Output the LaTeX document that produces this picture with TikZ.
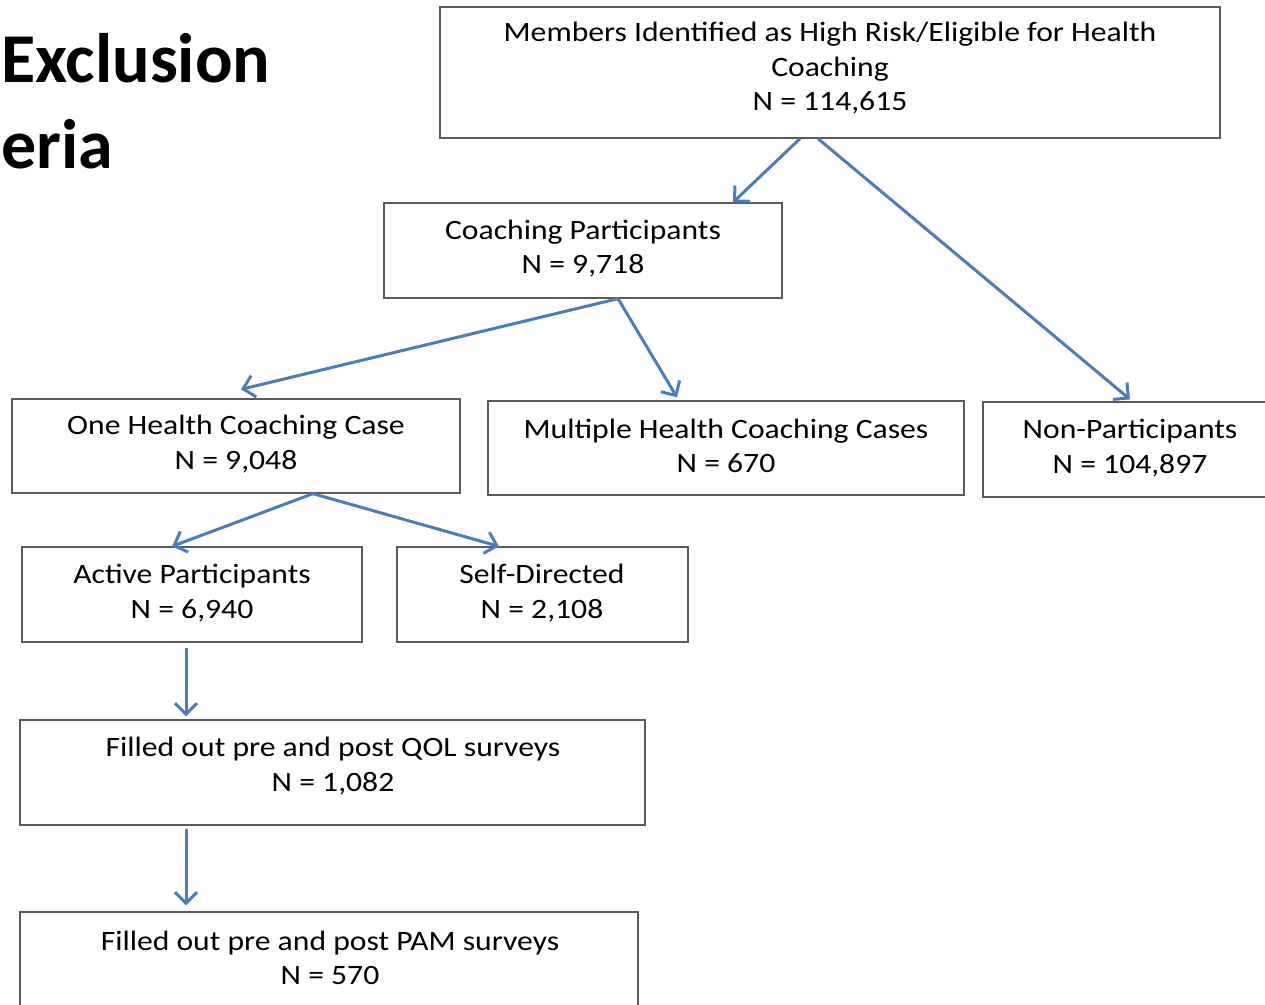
\documentclass[tikz,border=0pt]{standalone}
\usepackage{fontspec}
\setmainfont{Carlito}
\newfontfamily\widefont[FakeStretch=1.13]{Carlito}
\usetikzlibrary{arrows.meta,calc}
\definecolor{arr}{HTML}{4A7EBB}
\definecolor{bord}{HTML}{5A5A5A}
\begin{document}
\begin{tikzpicture}[x=1pt,y=-1pt,
 box/.style={draw=bord,line width=1.3pt,inner sep=0pt,rectangle},
 txt/.style={font=\widefont\fontsize{28}{34.5}\selectfont,align=center,inner sep=0pt,text=black},
 ttl/.style={font=\fontsize{70}{80}\selectfont\bfseries,inner sep=0pt,anchor=base west},
 conn/.style={draw=arr,line width=3pt,-{Straight Barb[length=11pt,width=22pt]}}]
\useasboundingbox (0,0) rectangle (1265,1004);
\clip (0,0) rectangle (1265,1004);
\fill[white] (0,0) rectangle (1265,1004);

% title fragments
\node[ttl] (t1) at (1,82) {Exclusion};
\node[ttl] (t2) at (1,168) {eria};

% boxes
\node[box,minimum width=780,minimum height=131] (top) at (830,72.5) {};
\node[box,minimum width=398,minimum height=95] (coach) at (583,250.5) {};
\node[box,minimum width=448,minimum height=94] (one) at (236,446) {};
\node[box,minimum width=476,minimum height=94] (multi) at (726,448) {};
\node[box,minimum width=284,minimum height=95] (non) at (1125,449.5) {};
\node[box,minimum width=340,minimum height=95] (active) at (192,594.5) {};
\node[box,minimum width=291,minimum height=95] (self) at (542.5,594.5) {};
\node[box,minimum width=625,minimum height=105] (qol) at (332.5,772.5) {};
\node[box,minimum width=618,minimum height=102] (pam) at (329,963) {};

% texts
\node[txt] (toptxt) at (830,68.5) {Members Identified as High Risk/Eligible for Health\\Coaching\\N = 114,615};
\node[txt] (coachtxt) at (583,248.5) {Coaching Participants\\N = 9,718};
\node[txt] (onetxt) at (236,444) {One Health Coaching Case\\N = 9,048};
\node[txt] (multitxt) at (726,446) {Multiple Health Coaching Cases\\N = 670};
\node[txt] (nontxt) at (1130,448) {Non-Participants\\N = 104,897};
\node[txt] (activetxt) at (192,593) {Active Participants\\N = 6,940};
\node[txt] (selftxt) at (542,593) {Self-Directed\\N = 2,108};
\node[txt] (qoltxt) at (333,766) {Filled out pre and post QOL surveys\\N = 1,082};
\node[txt] (pamtxt) at (330,958) {Filled out pre and post PAM surveys\\N = 570};

% connectors
\draw[conn] ([xshift=-30pt]top.south) -- ([xshift=150pt]coach.north);
\draw[conn] ([xshift=-12pt]top.south) -- ([xshift=5pt,yshift=2pt]non.north);
\draw[conn] ([xshift=35pt]coach.south) -- ([xshift=5pt,yshift=9pt]one.north);
\draw[conn] ([xshift=35pt]coach.south) -- ([xshift=-49pt,yshift=3pt]multi.north);
\draw[conn] ([xshift=77pt]one.south) -- ([xshift=-20pt]active.north);
\draw[conn] ([xshift=77pt]one.south) -- ([xshift=-43.5pt]self.north);
\draw[conn] ([xshift=-6pt,yshift=-5pt]active.south) -- ([xshift=-146.5pt,yshift=3pt]qol.north);
\draw[conn] ([xshift=-146.5pt,yshift=-3pt]qol.south) -- ([xshift=-143pt,yshift=6pt]pam.north);
\end{tikzpicture}
\end{document}
